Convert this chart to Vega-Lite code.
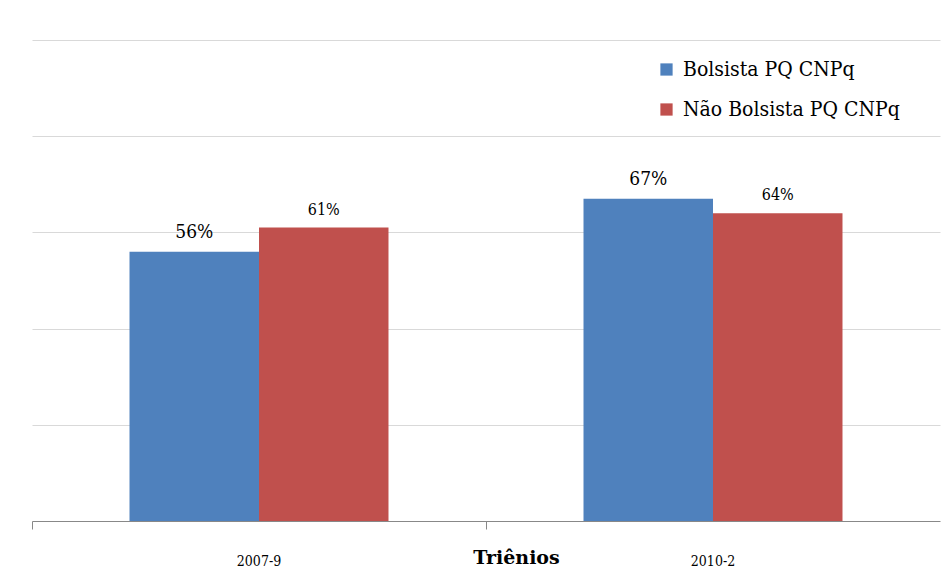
{
  "$schema": "https://vega.github.io/schema/vega-lite/v6.json",
  "width": 908,
  "height": 481,
  "autosize": "none",
  "padding": {"left": 32, "top": 40, "right": 8, "bottom": 55},
  "background": "white",
  "config": {
    "view": {"stroke": null},
    "font": "DejaVu Serif"
  },
  "data": {
    "values": [
      {"trienio": "2007-9", "grupo": "Bolsista PQ CNPq", "valor": 0.56},
      {"trienio": "2007-9", "grupo": "Não Bolsista PQ CNPq", "valor": 0.61},
      {"trienio": "2010-2", "grupo": "Bolsista PQ CNPq", "valor": 0.67},
      {"trienio": "2010-2", "grupo": "Não Bolsista PQ CNPq", "valor": 0.64}
    ]
  },
  "encoding": {
    "x": {
      "field": "trienio",
      "type": "nominal",
      "scale": {"paddingInner": 0, "paddingOuter": 0},
      "axis": {
        "title": "Triênios",
        "titleFont": "DejaVu Serif",
        "titleFontSize": 19,
        "titleFontWeight": "bold",
        "titleColor": "#000",
        "titleX": 484,
        "titleY": 36,
        "titleBaseline": "middle",
        "labelAngle": 0,
        "labelFont": "DejaVu Serif Condensed",
        "labelFontSize": 14,
        "labelColor": "#000",
        "labelPadding": 25,
        "labelBaseline": "top",
        "domainColor": "#888",
        "tickColor": "#888",
        "tickSize": 8,
        "bandPosition": 0
      }
    },
    "xOffset": {
      "field": "grupo",
      "type": "nominal",
      "scale": {"paddingInner": 0, "paddingOuter": 0.753}
    },
    "y": {
      "field": "valor",
      "type": "quantitative",
      "scale": {"domain": [0, 1]},
      "axis": {
        "title": null,
        "labels": false,
        "ticks": false,
        "domain": false,
        "values": [0.2, 0.4, 0.6, 0.8, 1.0],
        "gridColor": "#d9d9d9",
        "gridWidth": 1
      }
    }
  },
  "layer": [
    {
      "mark": {"type": "bar"},
      "encoding": {
        "color": {
          "field": "grupo",
          "type": "nominal",
          "scale": {"range": ["#4F81BD", "#C0504D"]},
          "legend": {
            "title": null,
            "orient": "none",
            "legendX": 624,
            "legendY": 19,
            "symbolType": "square",
            "symbolSize": 150,
            "symbolStrokeWidth": 0,
            "labelFont": "DejaVu Serif Condensed",
            "labelFontSize": 21,
            "labelColor": "#000",
            "labelLimit": 400,
            "rowPadding": 18,
            "labelOffset": 6
          }
        }
      }
    },
    {
      "mark": {"type": "text", "baseline": "bottom", "dy": -10, "color": "#000", "font": "DejaVu Serif Condensed"},
      "encoding": {
        "text": {"field": "valor", "type": "quantitative", "format": ".0%"},
        "size": {
          "field": "grupo",
          "type": "nominal",
          "scale": {"range": [19, 16]},
          "legend": null
        }
      }
    }
  ]
}
